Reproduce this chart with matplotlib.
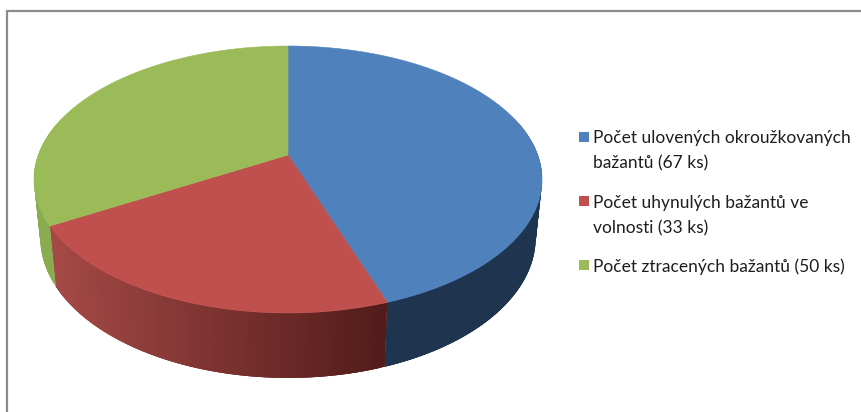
import numpy as np
import matplotlib
matplotlib.use("Agg")
import matplotlib.pyplot as plt
from matplotlib.patches import Polygon, Rectangle
from matplotlib.colors import to_rgb

values = [67, 33, 50]
line1 = ["Počet ulovených okroužkovaných", "Počet uhynulých bažantů ve", "Počet ztracených bažantů (50 ks)"]
line2 = ["bažantů (67 ks)", "volnosti (33 ks)", None]
top_colors = ["#4F81BD", "#C0504D", "#9BBB59"]
side_left = ["#20354F", "#A84B48", "#8AAB50"]
side_right = ["#1F344E", "#521C1A", "#82A24C"]

W, H = 861, 412
fig = plt.figure(figsize=(W / 100, H / 100), dpi=100, facecolor="white")
ax = fig.add_axes([0, 0, 1, 1])
ax.set_xlim(0, W)
ax.set_ylim(H, 0)
ax.axis("off")

CX, CY = 288.0, 155.0
RX, RY, K = 249.7, 129.0, 0.1835
SX, SY, DROP = 0.975, 1.05, 57.0


def project(theta, lower=False):
    X, Y = np.sin(theta), np.cos(theta)
    d = 1 + K * Y
    px, py = RX * X / d, -RY * Y / d
    if lower:
        return CX + SX * px, CY + SY * py + DROP
    return CX + px, CY + py


fr = np.cumsum([0] + values) / sum(values) * 2 * np.pi
ranges = list(zip(fr[:-1], fr[1:]))

# side wall: each strip overlaps the next so no seams appear.
# Strips are painted from the outer silhouette toward each slice's far end.
for i, (a, b) in enumerate(ranges):
    th = np.linspace(a, b, 120)
    th = th[np.cos(th) <= 0.3]
    if len(th) < 2:
        continue
    xt, yt = project(th)
    xb, yb = project(th, True)
    c0, c1 = np.array(to_rgb(side_left[i])), np.array(to_rgb(side_right[i]))
    n = len(th)
    for j in range(n - 1):
        e = min(j + 3, n - 1)
        t = np.clip((xt[j] - 40) / (386 - 40), 0, 1)
        col = c0 + (c1 - c0) * t
        pts = list(zip(xt[j:e + 1], yt[j:e + 1])) + list(zip(xb[j:e + 1][::-1], yb[j:e + 1][::-1]))
        ax.add_patch(Polygon(pts, closed=True, fc=col, ec="none", lw=0, zorder=2 + i * 0.1))

# top faces
for i, (a, b) in enumerate(ranges):
    th = np.linspace(a, b, 240)
    xt, yt = project(th)
    pts = [(CX, CY)] + list(zip(xt, yt))
    ax.add_patch(Polygon(pts, closed=True, fc=top_colors[i], ec=top_colors[i], lw=0.4, zorder=3))

# chart frame (top and left only visible)
ax.plot([7, 7, W], [H, 11, 11], color="#8C8C8C", lw=1.6, solid_joinstyle="miter", zorder=5)

# legend
ys_square = [132, 196, 260]
ys_line1 = [143, 207.5, 272]
for i in range(3):
    ax.add_patch(Rectangle((578.5, ys_square[i]), 10, 10, fc=top_colors[i], ec="none", zorder=4))
    ax.text(593, ys_line1[i], line1[i], family="Lato", fontsize=12.5, color="#1E1E1E", va="baseline", ha="left")
    if line2[i]:
        ax.text(593, ys_line1[i] + 25.5, line2[i], family="Lato", fontsize=12.5, color="#1E1E1E", va="baseline", ha="left")

fig.savefig("out.png", dpi=100, facecolor="white")
